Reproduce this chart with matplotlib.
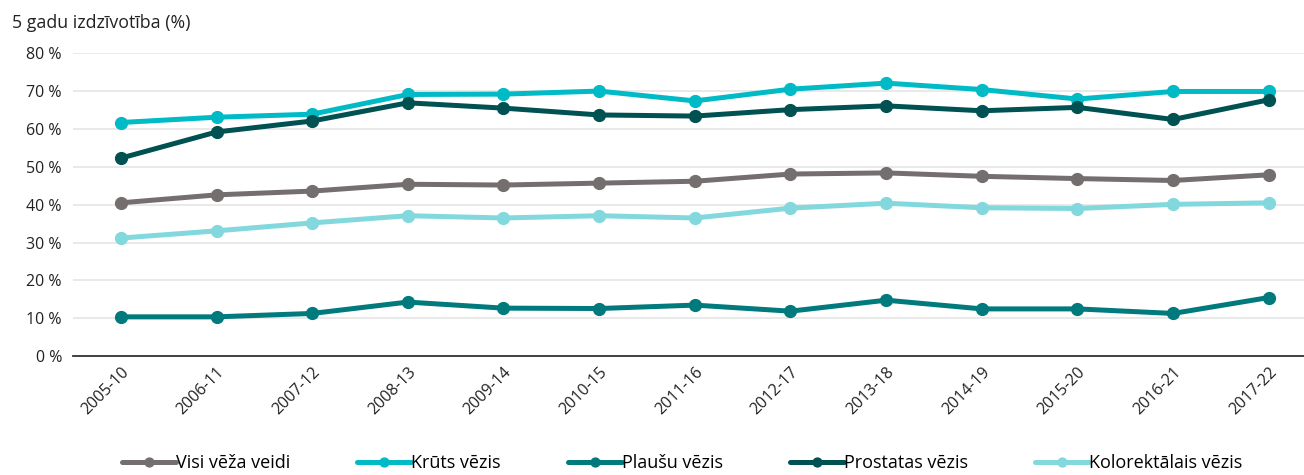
import matplotlib.pyplot as plt

# 5 gadu izdzīvotība pēc perioda
periodi = ["2005-10", "2006-11", "2007-12", "2008-13", "2009-14", "2010-15", "2011-16",
           "2012-17", "2013-18", "2014-19", "2015-20", "2016-21", "2017-22"]

visi = [40.5, 42.6, 43.6, 45.4, 45.2, 45.7, 46.2, 48.1, 48.4, 47.5, 46.9, 46.4, 47.9]
kruts = [61.7, 63.1, 63.9, 69.1, 69.2, 70.0, 67.4, 70.5, 72.1, 70.4, 67.9, 69.9, 69.9]
plausu = [10.4, 10.4, 11.3, 14.3, 12.7, 12.6, 13.5, 11.9, 14.8, 12.5, 12.5, 11.3, 15.5]
prostatas = [52.3, 59.2, 62.1, 66.9, 65.5, 63.7, 63.4, 65.1, 66.1, 64.8, 65.7, 62.5, 67.7]
kolorektalais = [31.2, 33.1, 35.2, 37.1, 36.5, 37.1, 36.5, 39.1, 40.4, 39.2, 39.0, 40.1, 40.5]

serijas = [
    ("Visi vēža veidi", visi, "#756e6f"),
    ("Krūts vēzis", kruts, "#00bac6"),
    ("Plaušu vēzis", plausu, "#007a7c"),
    ("Prostatas vēzis", prostatas, "#005152"),
    ("Kolorektālais vēzis", kolorektalais, "#82d8dd"),
]

plt.rcParams['font.family'] = ['Open Sans', 'DejaVu Sans']

fig = plt.figure(figsize=(13.04, 4.75), dpi=100)
ax = fig.add_axes([0.056, 0.25, 0.95, 0.638])

x = list(range(len(periodi)))
for nosaukums, vertibas, krasa in serijas:
    ax.plot(x, vertibas, color=krasa, lw=3.6, marker='o', markersize=8.5,
            solid_capstyle='round', label=nosaukums, zorder=3)

ax.set_ylim(0, 80)
ax.set_xlim(-0.5, 12.45)
ax.set_yticks(range(0, 81, 10))
ax.set_yticklabels([f"{v} %" for v in range(0, 81, 10)], fontsize=11.5, color='#222222')
ax.set_xticks(x)
ax.set_xticklabels(periodi, rotation=45, ha='right', rotation_mode='anchor',
                   fontsize=11.5, color='#222222')
ax.tick_params(length=0, pad=8)
ax.tick_params(axis='x', pad=6)

ax.grid(axis='y', color='#e5e5e5', lw=1.2)
ax.set_axisbelow(True)
for s in ['top', 'right', 'left']:
    ax.spines[s].set_visible(False)
ax.spines['bottom'].set_color('#333333')
ax.spines['bottom'].set_linewidth(1.3)
ax.spines['bottom'].set_zorder(4)

fig.text(0.009, 0.932, "5 gadu izdzīvotība (%)", fontsize=12.8, color='#222222', va='bottom')

fig.legend(loc='lower left', bbox_to_anchor=(0.081, -0.028), ncol=5, frameon=False,
           fontsize=13, handlelength=3.0, handletextpad=0.0, columnspacing=3.7,
           markerscale=0.75)

fig.savefig("out.png", dpi=100)
